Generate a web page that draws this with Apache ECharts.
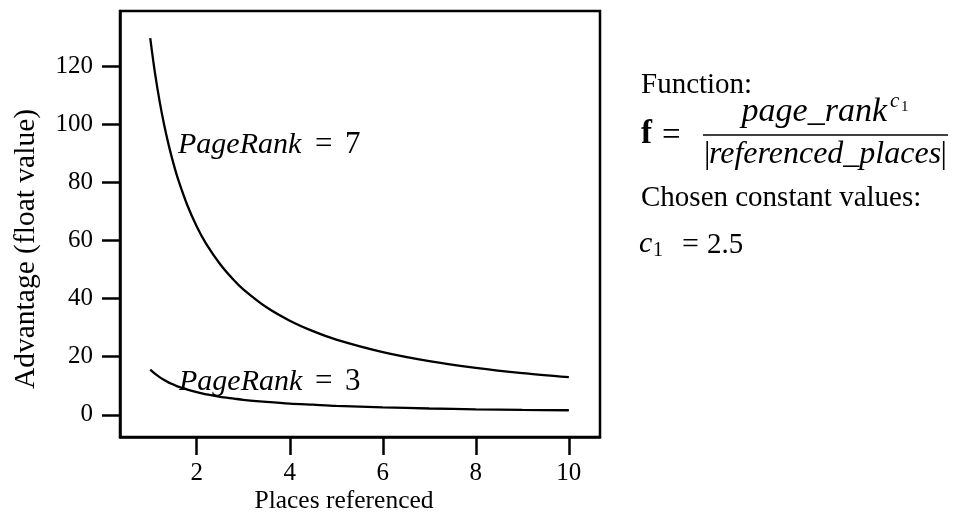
<!DOCTYPE html>
<html><head><meta charset="utf-8">
<script src="https://cdn.jsdelivr.net/npm/echarts@6/dist/echarts.min.js"></script>
<style>html,body{margin:0;padding:0;background:#fff}#c{width:955px;height:522px}</style>
</head><body><div id="c"></div>
<script>
// Values
const placesX = [1, 1.1, 1.2, 1.3, 1.4, 1.5, 1.6, 1.8, 2, 2.2, 2.5, 2.8, 3, 3.5, 4, 4.5, 5, 6, 7, 8, 9, 10];
const pageRank7 = [129.6, 117.8, 108.0, 99.7, 92.6, 86.4, 81.0, 72.0, 64.8, 58.9, 51.9, 46.3, 43.2, 37.0, 32.4, 28.8, 25.9, 21.6, 18.5, 16.2, 14.4, 13.0];
const pageRank3 = [15.6, 14.2, 13.0, 12.0, 11.1, 10.4, 9.7, 8.7, 7.8, 7.1, 6.2, 5.6, 5.2, 4.5, 3.9, 3.5, 3.1, 2.6, 2.2, 1.9, 1.7, 1.6];
const xTicks = [2, 4, 6, 8, 10];
const yTicks = [0, 20, 40, 60, 80, 100, 120];

const serif = '"Liberation Serif", "DejaVu Serif", serif';
const chart = echarts.init(document.getElementById('c'), null, {renderer: 'canvas'});
const pairs = ys => placesX.map((x, i) => [x, ys[i]]);
const T = (x, y, text, size, extra) => ({type: 'text', x: x, y: y, style: Object.assign({text: text, fontFamily: serif, fontSize: size, fill: '#000', textAlign: 'left', textVerticalAlign: 'middle'}, extra || {})});
const IT = {fontStyle: 'italic'};

chart.setOption({
  animation: false,
  backgroundColor: '#fff',
  grid: {left: 120, right: 355, top: 11, bottom: 85, show: true, borderColor: '#000', borderWidth: 2.5, backgroundColor: 'transparent'},
  xAxis: {
    type: 'value', min: 0.35, max: 10.67,
    axisLine: {show: true, onZero: false, lineStyle: {color: '#000', width: 2.5}},
    axisTick: {show: true, inside: false, length: 18, lineStyle: {color: '#000', width: 2.5}, customValues: xTicks},
    axisLabel: {show: true, margin: 24, color: '#000', fontFamily: serif, fontSize: 25, customValues: xTicks},
    splitLine: {show: false}
  },
  yAxis: {
    type: 'value', min: -7.6, max: 138.9,
    axisLine: {show: true, onZero: false, lineStyle: {color: '#000', width: 2.5}},
    axisTick: {show: true, inside: false, length: 18, lineStyle: {color: '#000', width: 2.5}, customValues: yTicks},
    axisLabel: {show: true, margin: 27, color: '#000', fontFamily: serif, fontSize: 25, customValues: yTicks},
    splitLine: {show: false}
  },
  series: [
    {type: 'line', data: pairs(pageRank7), smooth: 0.3, symbol: 'none', lineStyle: {color: '#000', width: 2.3}},
    {type: 'line', data: pairs(pageRank3), smooth: 0.3, symbol: 'none', lineStyle: {color: '#000', width: 2.3}}
  ],
  graphic: [
    {type: 'text', x: 26, y: 249, rotation: Math.PI / 2, style: {text: 'Advantage (float value)', fontFamily: serif, fontSize: 29.5, fill: '#000', textAlign: 'center', textVerticalAlign: 'middle'}},
    T(344, 501, 'Places referenced', 25.5, {textAlign: 'center'}),
    T(178, 145, 'PageRank', 30, IT), T(315, 145, '=', 31), T(345, 145, '7', 31),
    T(179, 382, 'PageRank', 30, IT), T(315, 382, '=', 31), T(345, 382, '3', 31),
    T(641, 85, 'Function:', 29),
    T(641, 134, 'f', 33, {fontWeight: 'bold'}), T(662, 136, '=', 33),
    T(887, 112, 'page_rank', 34, {fontStyle: 'italic', textAlign: 'right'}),
    T(890, 101, 'c', 21, IT), T(901, 107, '1', 15),
    {type: 'line', shape: {x1: 703, y1: 135, x2: 948, y2: 135}, style: {stroke: '#000', lineWidth: 1.5}},
    T(825, 155, 'referenced_places', 32, {fontStyle: 'italic', textAlign: 'center'}),
    T(704, 155, '|', 32), T(947, 155, '|', 32, {textAlign: 'right'}),
    T(641, 198, 'Chosen constant values:', 29),
    T(639, 244, 'c', 30, IT), T(653, 251, '1', 20), T(682, 245, '=', 30), T(707, 245, '2.5', 29)
  ]
});
</script></body></html>
